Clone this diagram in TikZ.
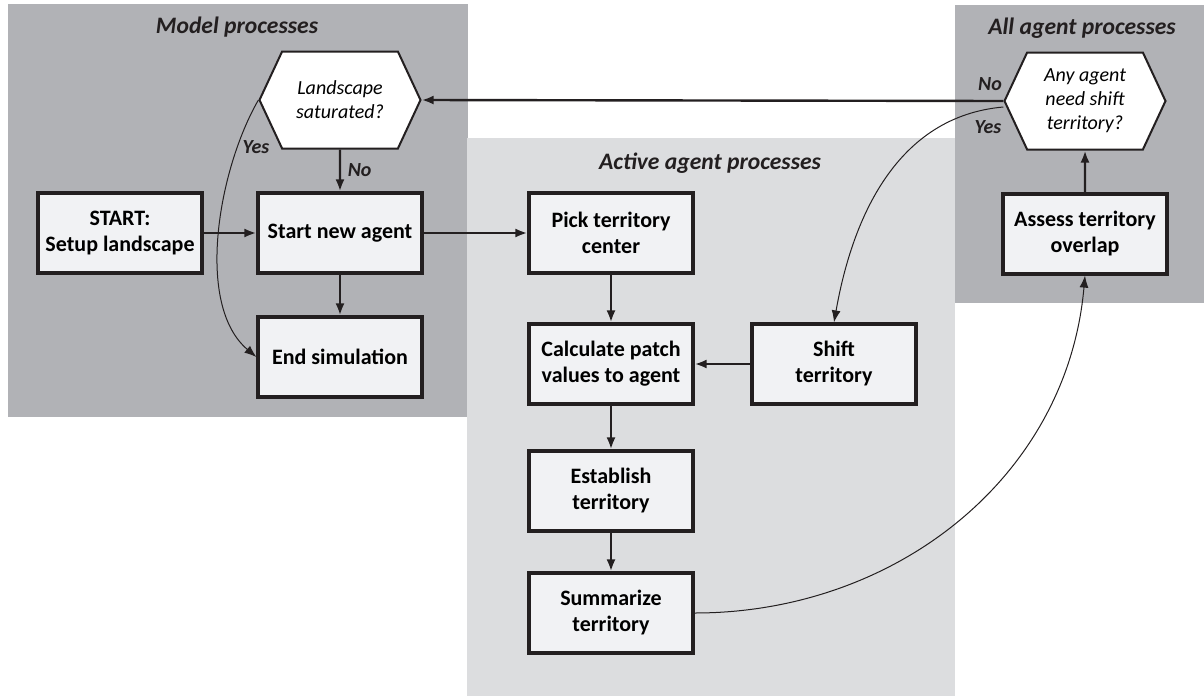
\documentclass[tikz,border=0pt]{standalone}
\usepackage{fontspec}
\setmainfont{Carlito}
\usetikzlibrary{arrows.meta,shapes.symbols}

\begin{document}
\begin{tikzpicture}[x=0.5pt,y=-0.5pt,
	box/.style={draw=boxline,line width=1.6pt,fill=boxfill,minimum width=82pt,minimum height=40pt,align=center,font=\fontsize{11}{13}\selectfont\bfseries,inner sep=1pt},
	hexa/.style={draw=boxline,line width=1pt,fill=white,shape=signal,signal to=west and east,signal from=nowhere,signal pointer angle=130,minimum width=80.5pt,minimum height=48.5pt,align=center,font=\itshape,inner sep=1pt},
	thickarrow/.style={-{Latex[length=6pt,width=4.5pt]},line width=1.2pt,draw=boxline},
	thinarrow/.style={-{Latex[length=6pt,width=4.5pt]},line width=0.5pt,draw=boxline},
	regiontitle/.style={font=\fontsize{11.8}{14}\selectfont\bfseries\itshape,text=boxline},
	answer/.style={font=\bfseries\itshape,text=boxline}]
	% 颜色列表
	\definecolor{darkregion}{RGB}{177,178,182}
	\definecolor{lightregion}{RGB}{220,221,223}
	\definecolor{boxfill}{RGB}{241,242,244}
	\definecolor{boxline}{RGB}{35,31,32}
	\useasboundingbox (0,0) rectangle (1204,696);
	
	% 背景区域
	\fill[darkregion] (8,4) rectangle (468,417);
	\fill[lightregion] (467,138) rectangle (955,696);
	\fill[darkregion] (955,5) rectangle (1204,303);
	
	\node[regiontitle] (modeltitle) at (237,27) {Model processes};
	\node[regiontitle] (activetitle) at (710,163) {Active agent processes};
	\node[regiontitle] (alltitle) at (1082,28) {All agent processes};
	
	% 模型过程
	\node[box] (setup) at (120,233) {START:\\Setup landscape};
	\node[box] (newagent) at (340,233) {Start new agent};
	\node[box] (endsim) at (340,357) {End simulation};
	\node[hexa] (saturated) at (340,100) {Landscape\\saturated?};
	
	% 活动个体过程
	\node[box] (center) at (611,233) {Pick territory\\center};
	\node[box] (patch) at (611,364) {Calculate patch\\values to agent};
	\node[box] (shift) at (834,364) {Shift\\territory};
	\node[box] (establish) at (611,491) {Establish\\territory};
	\node[box] (summary) at (611,613) {Summarize\\territory};
	
	% 全部个体过程
	\node[box] (overlap) at (1085,234) {Assess territory\\overlap};
	\node[hexa] (needshift) at (1085,101) {Any agent\\need shift\\territory?};
	
	% 连线
	\draw[thickarrow] (setup) -- (newagent);
	\draw[thickarrow] (saturated) -- node[answer,right] {No} (newagent);
	\draw[thickarrow] (newagent) -- (endsim);
	\draw[thinarrow] (saturated.west) to[out=240,in=140,looseness=0.8] (endsim.west);
	\node[answer] (yessat) at (256,147) {Yes};
	
	\draw[thickarrow] (newagent) -- (center);
	\draw[thickarrow] (center) -- (patch);
	\draw[thickarrow] (shift) -- (patch);
	\draw[thickarrow] (patch) -- (establish);
	\draw[thickarrow] (establish) -- (summary);
	\draw[thinarrow] (summary.east) to[out=0,in=265] (overlap.south);
	
	\draw[thickarrow] (overlap) -- (needshift);
	\draw[thickarrow] (needshift.west) -- (saturated.east);
	\node[answer] (noshift) at (990,84) {No};
	\draw[thinarrow] ([yshift=-3pt]needshift.west) to[out=185,in=80] (shift.north);
	\node[answer] (yesshift) at (988,127) {Yes};
\end{tikzpicture}
\end{document}
